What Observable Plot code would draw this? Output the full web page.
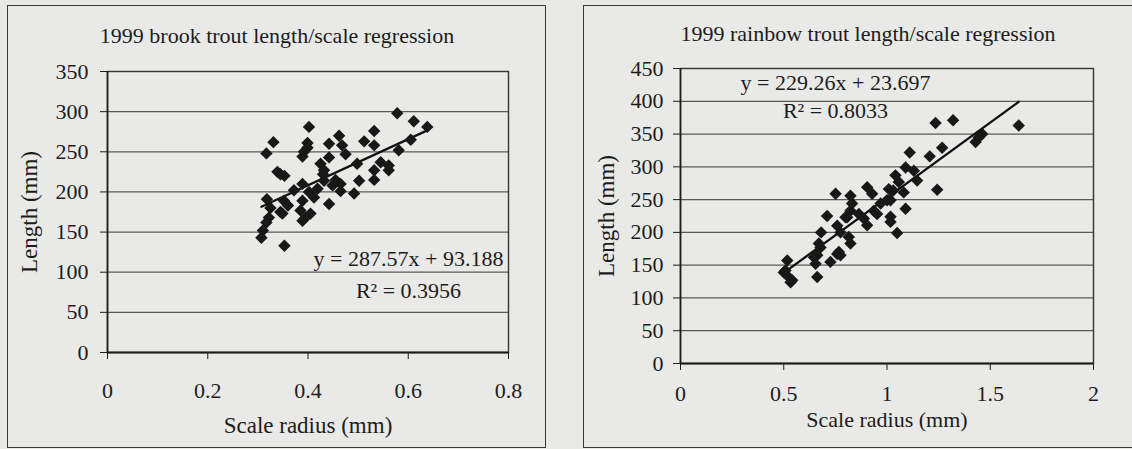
<!DOCTYPE html>
<html>
<head>
<meta charset="utf-8">
<script src="https://cdn.jsdelivr.net/npm/d3@7"></script>
<script src="https://cdn.jsdelivr.net/npm/@observablehq/plot@0.6"></script>
<style>
  html, body { margin: 0; padding: 0; }
  body { width: 1132px; height: 449px; overflow: hidden; position: relative; background: #e9e9e7; font-family: "Liberation Serif", "Times New Roman", serif; }
  .panel { position: absolute; border: 1.5px solid #3a3a3a; box-sizing: border-box; }
  .chart { position: absolute; top: 0; }
  .chart svg { display: block; background: transparent; }
</style>
</head>
<body>
<div class="panel" style="left:7px; top:5px; width:539px; height:443px;"></div>
<div class="panel" style="left:583px; top:5px; width:600px; height:443px;"></div>
<div id="c1" class="chart" style="left:0px;"></div>
<div id="c2" class="chart" style="left:560px;"></div>
<script>
// ---------- Brook trout ----------
const brookTitle = "1999 brook trout length/scale regression";
const brookX = [0.307,0.310,0.317,0.322,0.318,0.325,0.317,0.331,0.339,0.353,0.345,0.345,0.349,0.353,0.352,0.360,0.372,0.385,0.389,0.389,0.389,0.389,0.392,0.399,0.399,0.402,0.395,0.405,0.402,0.412,0.419,0.432,0.432,0.442,0.442,0.442,0.449,0.462,0.465,0.465,0.468,0.475,0.492,0.498,0.502,0.512,0.532,0.532,0.532,0.532,0.545,0.561,0.561,0.578,0.581,0.605,0.611,0.638,0.430,0.425,0.455];
const brookY = [143,152,162,168,191,180,248,262,225,220,222,175,173,133,189,183,202,177,164,189,210,244,250,255,261,281,168,173,200,193,204,227,214,185,243,260,208,270,210,201,258,247,198,235,214,263,276,258,227,215,237,233,227,298,252,265,288,281,222,235,215];
const brookSlope = 287.57, brookIntercept = 93.188;
const brookEq = ["y = 287.57x + 93.188", "R² = 0.3956"];
const brookXTicks = [0, 0.2, 0.4, 0.6, 0.8];
const brookYTicks = [0, 50, 100, 150, 200, 250, 300, 350];

// ---------- Rainbow trout ----------
const rainbowTitle = "1999 rainbow trout length/scale regression";
const rainbowX = [0.500,0.508,0.517,0.517,0.533,0.541,0.646,0.654,0.662,0.662,0.670,0.678,0.681,0.710,0.726,0.751,0.759,0.759,0.767,0.775,0.775,0.799,0.807,0.815,0.823,0.823,0.823,0.831,0.864,0.888,0.904,0.904,0.928,0.936,0.952,0.969,1.000,1.009,1.017,1.017,1.017,1.030,1.041,1.049,1.057,1.081,1.090,1.090,1.110,1.130,1.146,1.207,1.235,1.243,1.267,1.320,1.429,1.445,1.461,1.638];
const rainbowY = [139,142,157,134,124,127,162,152,165,132,183,177,200,225,155,259,210,167,170,200,165,223,223,193,256,233,183,244,228,221,269,211,259,233,228,244,249,266,249,224,216,264,287,199,277,261,299,236,322,294,279,316,367,265,329,371,338,345,350,363];
const rainbowSlope = 229.26, rainbowIntercept = 23.697;
const rainbowEq = ["y = 229.26x + 23.697", "R² = 0.8033"];
const rainbowXTicks = [0, 0.5, 1, 1.5, 2];
const rainbowYTicks = [0, 50, 100, 150, 200, 250, 300, 350, 400, 450];

const xLabel = "Scale radius (mm)";
const yLabel = "Length (mm)";

function makeChart(cfg) {
  const pts = cfg.xs.map((x, i) => ({x, y: cfg.ys[i]}));
  const [x0, x1] = d3.extent(cfg.xs);
  const fit = [x0, x1].map(x => ({x, y: cfg.slope * x + cfg.intercept}));
  const font = "Liberation Serif";
  const ink = "#1c1c1c";
  return Plot.plot({
    width: cfg.width, height: 449,
    marginLeft: cfg.ml, marginRight: cfg.mr, marginTop: cfg.mt, marginBottom: cfg.mb,
    style: {fontFamily: font, fontSize: "22px", color: ink, background: "transparent", overflow: "visible"},
    x: {domain: [cfg.xTicks[0], cfg.xTicks[cfg.xTicks.length - 1]]},
    y: {domain: [cfg.yTicks[0], cfg.yTicks[cfg.yTicks.length - 1]]},
    marks: [
      Plot.gridY(cfg.yTicks.slice(1), {stroke: "#5a5a5a", strokeOpacity: 1, strokeWidth: 1.2}),
      Plot.frame({stroke: "#333", strokeWidth: 1.4}),
      Plot.ruleX([cfg.xTicks[0]], {stroke: ink, strokeWidth: 1.6}),
      Plot.ruleY([cfg.yTicks[0]], {stroke: ink, strokeWidth: 2.2}),
      Plot.axisY(cfg.yTicks, {tickSize: 7, tickPadding: cfg.yPad, tickFormat: d => String(d), label: null, fontSize: 22, stroke: ink}),
      Plot.axisX(cfg.xTicks, {tickSize: 7, tickPadding: cfg.xPad, tickFormat: d => String(d), label: null, fontSize: 22, stroke: ink}),
      Plot.line(fit, {x: "x", y: "y", stroke: "#111", strokeWidth: 2.3}),
      Plot.dot(pts, {x: "x", y: "y", symbol: "diamond2", r: 5.6, fill: "#181818", stroke: "none"}),
      Plot.text([cfg.title], {frameAnchor: "top", dx: cfg.titleDx, dy: cfg.titleDy, fontSize: 22, fill: ink, textAnchor: "middle", lineAnchor: "middle"}),
      Plot.text([xLabel], {frameAnchor: "bottom", dy: cfg.xLabDy, fontSize: cfg.xLabSize, fill: ink, textAnchor: "middle", lineAnchor: "middle"}),
      Plot.text([yLabel], {frameAnchor: "left", dx: cfg.yLabDx, rotate: -90, fontSize: 23, fill: ink, textAnchor: "middle", lineAnchor: "middle"}),
      Plot.text([cfg.eq[0]], {frameAnchor: "top-left", dx: cfg.eqDx, dy: cfg.eqDy1, fontSize: 22, fill: ink, textAnchor: "middle", lineAnchor: "middle"}),
      Plot.text([cfg.eq[1]], {frameAnchor: "top-left", dx: cfg.eqDx, dy: cfg.eqDy2, fontSize: 22, fill: ink, textAnchor: "middle", lineAnchor: "middle"})
    ]
  });
}

document.getElementById("c1").append(makeChart({
  xs: brookX, ys: brookY, slope: brookSlope, intercept: brookIntercept,
  xTicks: brookXTicks, yTicks: brookYTicks, title: brookTitle, eq: brookEq,
  width: 550, ml: 107, mr: 42, mt: 71, mb: 97,
  yPad: 12, xPad: 23, titleDx: -31, titleDy: -36, xLabDy: 73, xLabSize: 23, yLabDx: -78,
  eqDx: 301, eqDy1: 187, eqDy2: 219
}));

document.getElementById("c2").append(makeChart({
  xs: rainbowX, ys: rainbowY, slope: rainbowSlope, intercept: rainbowIntercept,
  xTicks: rainbowXTicks, yTicks: rainbowYTicks, title: rainbowTitle, eq: rainbowEq,
  width: 572, ml: 120, mr: 39, mt: 68, mb: 86,
  yPad: 10, xPad: 15, titleDx: -19, titleDy: -35, xLabDy: 56, xLabSize: 22, yLabDx: -74,
  eqDx: 155, eqDy1: 14, eqDy2: 42
}));
</script>
</body>
</html>
